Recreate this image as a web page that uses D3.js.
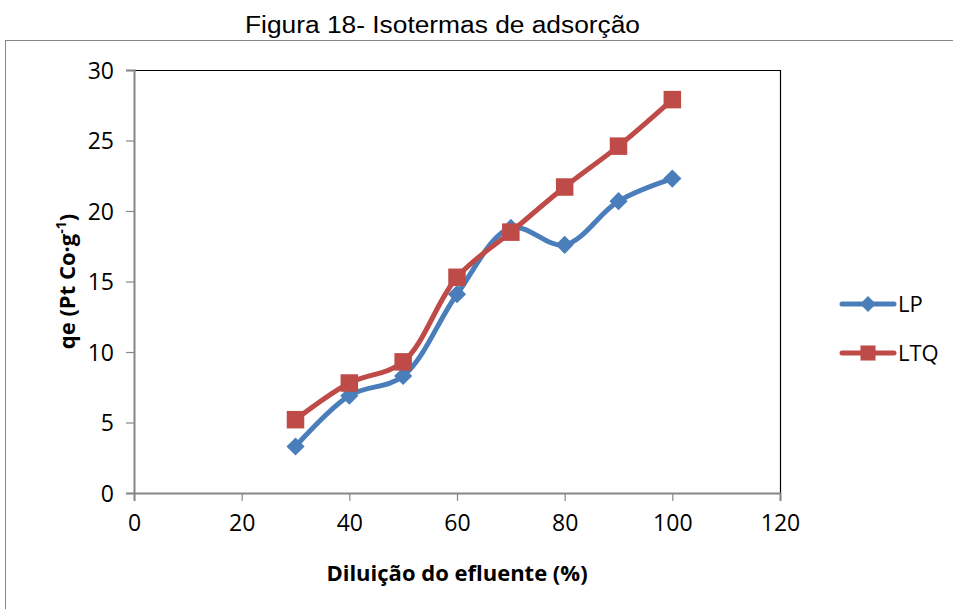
<!DOCTYPE html>
<html>
<head>
<meta charset="utf-8">
<script src="https://cdn.jsdelivr.net/npm/d3@7"></script>
<style>
  body { margin: 0; background: #fff; }
  svg { display: block; }
</style>
</head>
<body>
<svg id="chart" width="953" height="609"></svg>
<script>
// Dilution levels (%) and adsorption capacity for each sorbent
const dilution = [30, 40, 50, 60, 70, 80, 90, 100];
const lpValues = [3.3, 6.9, 8.3, 14.1, 18.8, 17.6, 20.7, 22.3];
const ltqValues = [5.2, 7.8, 9.3, 15.3, 18.5, 21.7, 24.6, 27.9];
const seriesNames = ["LP", "LTQ"];
const xTicks = [0, 20, 40, 60, 80, 100, 120];
const yTicks = [0, 5, 10, 15, 20, 25, 30];

const colors = { LP: "#4A7EBB", LTQ: "#BE4B48" };
const labelFont = "'Open Sans', Lato, sans-serif";

const svg = d3.select("#chart");
const plot = { left: 134, right: 780, top: 70, bottom: 493 };

const x = d3.scaleLinear().domain([0, 120]).range([plot.left, plot.right]);
const y = d3.scaleLinear().domain([0, 30]).range([plot.bottom, plot.top]);

// Outer chart frame
svg.append("rect")
  .attr("x", 5.5).attr("y", 40.5)
  .attr("width", 1000).attr("height", 700)
  .attr("fill", "none").attr("stroke", "#868686").attr("stroke-width", 1);

// Title
svg.append("text")
  .attr("x", 245).attr("y", 33)
  .attr("font-family", "'Liberation Sans', Arial, sans-serif")
  .attr("font-size", 23)
  .attr("textLength", 395)
  .attr("lengthAdjust", "spacingAndGlyphs")
  .attr("fill", "#000")
  .text("Figura 18- Isotermas de adsorção");

// Plot area border (top and right)
svg.append("path")
  .attr("d", `M${plot.left},${plot.top + 0.5}H${plot.right + 0.5}V${plot.bottom}`)
  .attr("fill", "none").attr("stroke", "#000").attr("stroke-width", 1.2);

// Axes
const xAxis = d3.axisBottom(x).tickValues(xTicks).tickSize(8).tickPadding(14);
const yAxis = d3.axisLeft(y).tickValues(yTicks).tickSize(8).tickPadding(12);

const gx = svg.append("g").attr("transform", `translate(0,${plot.bottom})`).call(xAxis);
const gy = svg.append("g").attr("transform", `translate(${plot.left},0)`).call(yAxis);

[gx, gy].forEach(g => {
  g.attr("font-size", null).attr("font-family", null);
  g.select(".domain").attr("stroke", "#868686").attr("stroke-width", 2);
  g.selectAll(".tick line").attr("stroke", "#868686").attr("stroke-width", 1.2);
  g.selectAll(".tick text")
    .style("font-family", labelFont)
    .style("font-size", "23px")
    .attr("fill", "#000");
});
gy.selectAll(".tick text").attr("dy", "0.35em");

// Axis titles
svg.append("text")
  .attr("x", x(60)).attr("y", 581)
  .attr("text-anchor", "middle")
  .style("font-family", labelFont)
  .style("font-weight", "bold")
  .style("font-size", "22px")
  .text("Diluição do efluente (%)");

const yTitle = svg.append("text")
  .attr("transform", `translate(75,${(plot.top + plot.bottom) / 2}) rotate(-90)`)
  .attr("text-anchor", "middle")
  .style("font-family", labelFont)
  .style("font-weight", "bold")
  .style("font-size", "22px");
yTitle.append("tspan").text("qe (Pt Co·g");
yTitle.append("tspan").style("font-size", "14px").attr("dy", -9).text("-1");
yTitle.append("tspan").attr("dy", 9).text(")");

// Series
const series = [
  { name: seriesNames[0], values: lpValues, symbol: d3.symbolDiamond2, size: 210, legendSize: 160 },
  { name: seriesNames[1], values: ltqValues, symbol: d3.symbolSquare2, size: 390, legendSize: 290 }
];

const line = d3.line()
  .x(d => x(d[0]))
  .y(d => y(d[1]))
  .curve(d3.curveCatmullRom.alpha(0.5));

series.forEach(s => {
  const pts = dilution.map((d, i) => [d, s.values[i]]);
  const g = svg.append("g");
  g.append("path")
    .datum(pts)
    .attr("d", line)
    .attr("fill", "none")
    .attr("stroke", colors[s.name])
    .attr("stroke-width", 5)
    .attr("stroke-linejoin", "round");
  g.selectAll("path.mk")
    .data(pts)
    .join("path")
    .attr("class", "mk")
    .attr("transform", d => `translate(${x(d[0])},${y(d[1])})`)
    .attr("d", d3.symbol().type(s.symbol).size(s.size))
    .attr("fill", colors[s.name]);
});

// Legend
const legendY = [304, 353];
series.forEach((s, i) => {
  const g = svg.append("g").attr("transform", `translate(0,${legendY[i]})`);
  g.append("line")
    .attr("x1", 842).attr("x2", 894)
    .attr("stroke", colors[s.name])
    .attr("stroke-width", 5)
    .attr("stroke-linecap", "round");
  g.append("path")
    .attr("transform", "translate(868,0)")
    .attr("d", d3.symbol().type(s.symbol).size(s.legendSize))
    .attr("fill", colors[s.name]);
  g.append("text")
    .attr("x", 898).attr("dy", "0.35em")
    .style("font-family", labelFont)
    .style("font-size", "22px")
    .text(s.name);
});
</script>
</body>
</html>
